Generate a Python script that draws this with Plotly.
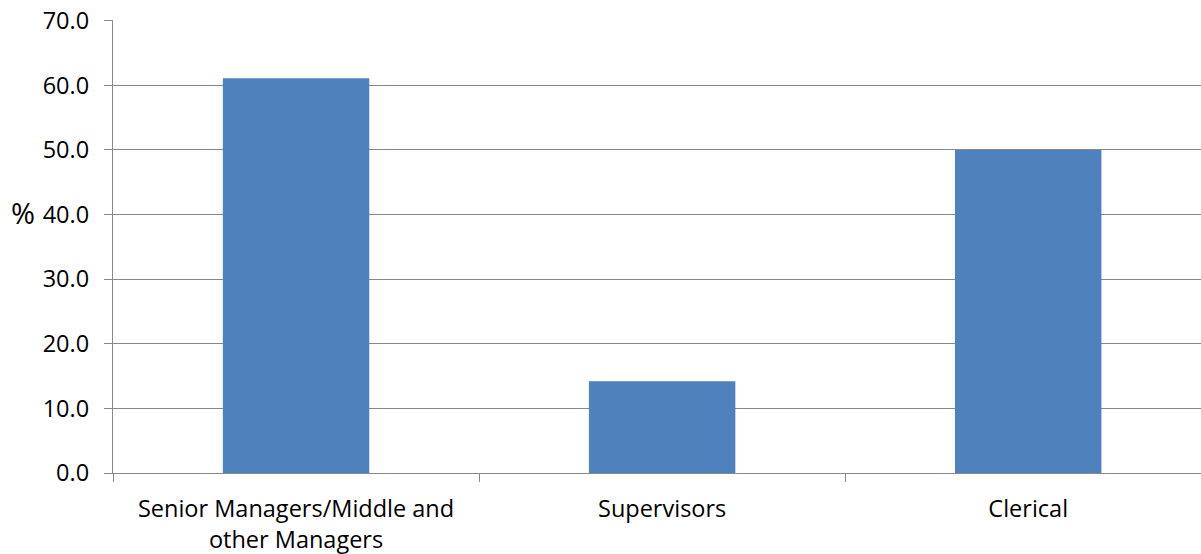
import plotly.graph_objects as go

categories = ["Senior Managers/Middle and<br>other Managers", "Supervisors", "Clerical"]
percent = [61.1, 14.2, 50.0]
y_ticks = [0, 10, 20, 30, 40, 50, 60, 70]

grey = "#898989"
font = dict(family="Open Sans, Liberation Sans, sans-serif", size=23.5, color="#000000")

fig = go.Figure()
fig.add_trace(go.Bar(x=categories, y=percent, width=0.4,
                     marker=dict(color="#4F81BD", line=dict(width=0))))

fig.update_layout(
    width=1201, height=554,
    margin=dict(l=113, r=0, t=20, b=81),
    paper_bgcolor="white", plot_bgcolor="white",
    font=font, showlegend=False,
)
fig.update_xaxes(
    type="category", range=[-0.5, 2.472],
    showline=True, linecolor=grey, linewidth=1.3,
    ticks="outside", tickson="boundaries", ticklen=8, tickcolor=grey, tickwidth=1.3,
    showgrid=False, ticklabelstandoff=15,
)
fig.update_yaxes(
    range=[0, 70.1], tickvals=y_ticks, tickformat=".1f",
    showline=True, linecolor=grey, linewidth=1.3,
    ticks="outside", ticklen=8, tickcolor=grey, tickwidth=1.3,
    showgrid=True, gridcolor=grey, gridwidth=1.3,
    zeroline=False, ticklabelstandoff=10, automargin=False,
    ticklabeloverflow="allow",
)
fig.add_annotation(text="%", xref="paper", yref="paper", x=-0.083, y=0.574,
                   xanchor="center", yanchor="middle", showarrow=False,
                   font=dict(family="Open Sans, sans-serif", size=29, color="#000000"))

# drop the default 8px page margin so the figure fills the window
fig.write_html("out.html", config={"displayModeBar": False},
               post_script="document.body.style.margin='0';")
